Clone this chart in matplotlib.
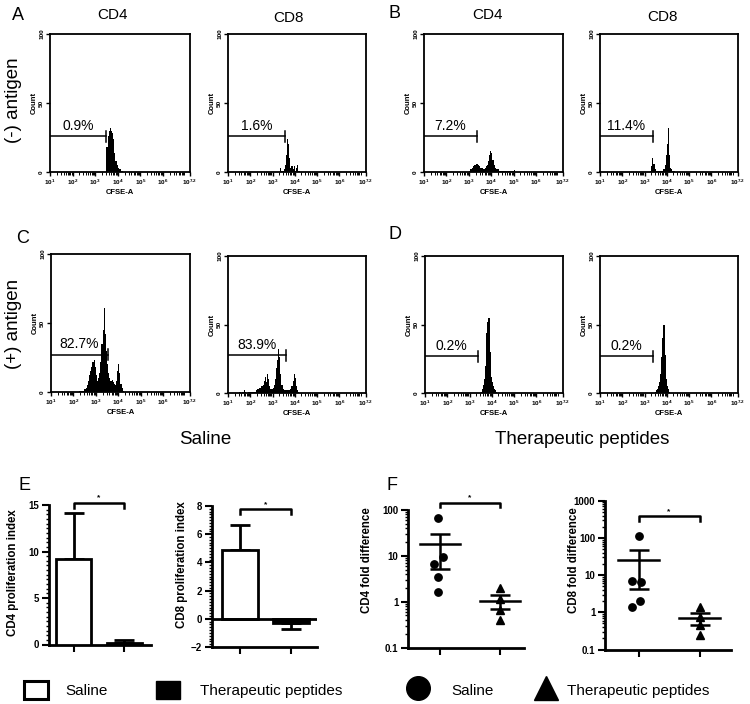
import numpy as np
import matplotlib
matplotlib.use('Agg')
import matplotlib.pyplot as plt
from matplotlib import font_manager as fm
from matplotlib.patches import Patch
from matplotlib.lines import Line2D
from matplotlib.ticker import LogLocator, NullFormatter, MultipleLocator

avail = {f.name for f in fm.fontManager.ttflist}
SANS = 'Liberation Sans' if 'Liberation Sans' in avail else 'DejaVu Sans'
HAS_NARROW = 'Liberation Sans Narrow' in avail
NARROW = 'Liberation Sans Narrow' if HAS_NARROW else SANS
plt.rcParams['font.family'] = [SANS, 'DejaVu Sans']
plt.rcParams['mathtext.fontset'] = 'custom'
plt.rcParams['mathtext.rm'] = SANS
plt.rcParams['mathtext.bf'] = SANS + ':bold'

# ---------------- data ----------------
BIN = 0.05  # log10 bin width of the CFSE histograms
# CFSE histograms: first bin (log10 CFSE) and counts per bin
sal_neg_cd4_start = 3.50
sal_neg_cd4 = [18, 26, 30, 32, 30, 28, 24, 14, 8, 5, 3, 2, 2, 1, 1]
sal_neg_cd8_start = 3.35
sal_neg_cd8 = [3, 1, 1, 2, 5, 12, 24, 20, 10, 3, 4, 2, 4, 1, 3, 5, 1, 1]
pep_neg_cd4_start = 3.00
pep_neg_cd4 = [1, 2, 2, 3, 4, 5, 6, 6, 5, 4, 3, 3, 3, 2, 3, 4, 5, 8, 12, 15, 14, 9, 5, 3,
               2, 2, 2, 1, 1, 1, 1, 1, 0.5, 0.5, 0.5, 0.5, 0.5, 0.5, 0.5, 0.5, 1.5]
pep_neg_cd8_start = 3.25
pep_neg_cd8 = [1, 4, 10, 6, 2, 1, 1, 1, 1, 1, 1, 1, 2, 5, 12, 20, 32, 12, 3, 2, 1, 1]
sal_pos_cd4_start = 2.25
sal_pos_cd4 = [1, 1, 1, 1, 2, 2, 3, 5, 8, 12, 15, 18, 22, 23, 18, 12, 8, 10, 14, 22, 35, 45,
               61, 42, 30, 20, 14, 10, 8, 9, 7, 6, 5, 8, 15, 20, 14, 6, 3, 1]
sal_pos_cd8_start = 1.50
sal_pos_cd8 = [1, 1, 0, 1, 2, 1, 0, 0, 0.5, 0.5, 1, 0.5, 1, 1, 1, 2, 3, 3, 4, 4, 5, 6, 9, 12,
               8, 14, 10, 5, 3, 3, 4, 6, 10, 18, 24, 32, 26, 14, 6, 3, 2, 2, 2, 2, 2, 2, 3,
               5, 9, 14, 11, 5, 2, 1]
pep_pos_cd4_start = 3.50
pep_pos_cd4 = [1, 3, 6, 10, 20, 44, 52, 55, 30, 12, 8, 5, 3, 2, 1]
pep_pos_cd8_start = 3.45
pep_pos_cd8 = [1, 2, 3, 5, 8, 14, 26, 40, 50, 28, 10, 5, 3, 1]

gate_labels = ['0.9%', '1.6%', '7.2%', '11.4%', '82.7%', '83.9%', '0.2%', '0.2%']
gate_ends = [3.48, 3.54, 3.35, 3.36, 3.54, 3.59, 3.36, 3.36]   # log10 CFSE
gate_levels = [26, 26, 26, 26, 27, 27.5, 26.7, 26.7]          # count

hist_xtick_exp = [1, 2, 3, 4, 5, 6, 7.2]
hist_xtick_labels = [r'$\mathbf{10^{1}}$', r'$\mathbf{10^{2}}$', r'$\mathbf{10^{3}}$',
                     r'$\mathbf{10^{4}}$', r'$\mathbf{10^{5}}$', r'$\mathbf{10^{6}}$',
                     r'$\mathbf{10^{7.2}}$']

groups = ['Saline', 'Therapeutic peptides']
cd4_index_mean = [9.15, 0.15]
cd4_index_sem = [4.95, 0.35]
cd8_index_mean = [4.87, -0.3]
cd8_index_sem = [1.8, 0.45]

cd4_fold_saline = [68, 9.6, 6.65, 3.5, 1.6]
cd4_fold_peptide = [2.0, 1.15, 0.65, 0.4]
cd8_fold_saline = [113, 7.0, 6.4, 2.0, 1.4]
cd8_fold_peptide = [1.4, 0.75, 0.45, 0.25]

# ---------------- layout helpers ----------------
W, H = 750, 704
fig = plt.figure(figsize=(W / 100, H / 100), dpi=100)


def box(l, r, t, b):
    return [l / W, 1 - b / H, (r - l) / W, (b - t) / H]


def ftext(x, y, s, **kw):
    fig.text(x / W, 1 - y / H, s, **kw)


def hist_panel(rect, start, counts, gate_end, gate_y, label):
    ax = fig.add_axes(box(*rect))
    edges = 10 ** (start + BIN * np.arange(len(counts) + 1))
    ax.stairs(counts, edges, fill=True, color='black', linewidth=0)
    ax.set_xscale('log')
    ax.set_xlim(10, 10 ** 7.2)
    ax.set_ylim(0, 100)
    for s in ax.spines.values():
        s.set_linewidth(1.3)
    ax.set_xticks([10 ** k for k in hist_xtick_exp])
    ax.set_xticklabels(hist_xtick_labels, fontsize=4.6)
    ax.xaxis.set_minor_locator(LogLocator(base=10, subs=np.arange(2, 10) * 1.0, numticks=20))
    ax.xaxis.set_minor_formatter(NullFormatter())
    ax.tick_params(axis='x', which='major', length=3, width=1.0, pad=1.2)
    ax.tick_params(axis='x', which='minor', length=2.2, width=0.7)
    ax.set_yticks([0, 50, 100])
    ax.set_yticklabels(['0', '50', '100'], rotation=90, fontsize=4.6,
                       fontweight='bold', va='center')
    ax.tick_params(axis='y', length=3, width=1.0, pad=1.2)
    ax.set_xlabel('CFSE-A', fontsize=5.5, fontweight='bold', labelpad=1)
    ax.set_ylabel('Count', fontsize=5.5, fontweight='bold', labelpad=1)
    ax.plot([10, 10 ** gate_end], [gate_y, gate_y], color='black', lw=1.1)
    ax.plot([10 ** gate_end] * 2, [gate_y - 4, gate_y + 4], color='black', lw=1.1)
    mid = 10 ** ((1 + gate_end) / 2)
    ax.text(mid, gate_y + 2.5, label, ha='center', va='bottom', fontsize=10)
    return ax


hist_rects = [(50, 190, 34, 172), (228, 366, 34, 172), (424, 563, 34, 172), (600, 738, 34, 172),
              (51, 190, 254, 392), (228, 366, 256, 393), (425, 563, 256, 393), (600, 738, 256, 393)]
hist_data = [(sal_neg_cd4_start, sal_neg_cd4), (sal_neg_cd8_start, sal_neg_cd8),
             (pep_neg_cd4_start, pep_neg_cd4), (pep_neg_cd8_start, pep_neg_cd8),
             (sal_pos_cd4_start, sal_pos_cd4), (sal_pos_cd8_start, sal_pos_cd8),
             (pep_pos_cd4_start, pep_pos_cd4), (pep_pos_cd8_start, pep_pos_cd8)]
for rect, (st, cnt), ge, gy, lab in zip(hist_rects, hist_data, gate_ends, gate_levels, gate_labels):
    hist_panel(rect, st, cnt, ge, gy, lab)

# titles / letters
for (x, y, s) in [(112, 15, 'CD4'), (289, 18, 'CD8'), (488, 15, 'CD4'), (663, 17, 'CD8')]:
    ftext(x, y, s, ha='center', va='center', fontsize=11)
for (x, y, s) in [(18, 15, 'A'), (394, 14, 'B'), (23, 238, 'C'), (395, 235, 'D'),
                  (24, 485, 'E'), (392, 486, 'F')]:
    ftext(x, y, s, ha='center', va='center', fontsize=13)
ftext(14, 100, '(-) antigen', rotation=90, ha='center', va='center', fontsize=13.5)
ftext(14, 324, '(+) antigen', rotation=90, ha='center', va='center', fontsize=13.5)
ftext(205, 440, 'Saline', ha='center', va='center', fontsize=13.5)
ftext(582, 440, 'Therapeutic peptides', ha='center', va='center', fontsize=13.5)


# ---------------- E: bar charts ----------------
def style_summary(ax):
    ax.spines['top'].set_visible(False)
    ax.spines['right'].set_visible(False)
    ax.spines['left'].set_linewidth(2)
    ax.spines['bottom'].set_linewidth(2)
    ax.set_xticks([0, 1])
    ax.set_xticklabels([])
    ax.tick_params(axis='both', which='major', length=5, width=1.5, pad=2)
    ax.tick_params(axis='y', which='minor', length=2.5, width=1.0)
    for t in ax.get_yticklabels():
        t.set_fontweight('bold')
        t.set_fontsize(7)


def bar_panel(rect, means, sems, xlim, ylim, major, minor, bracket, ylab, ylab_pos):
    ax = fig.add_axes(box(*rect))
    x = np.arange(len(means))
    means = np.asarray(means)
    sems = np.asarray(sems)
    ax.bar(x, means, width=0.7, color=['white', 'black'], edgecolor='black',
           linewidth=2, zorder=3)
    lower = np.where(means < 0, sems, 0)
    upper = np.where(means >= 0, sems, 0)
    ax.errorbar(x, means, yerr=[lower, upper], fmt='none', ecolor='black',
                elinewidth=2, capsize=7.5, capthick=2, zorder=2)
    if ylim[0] < 0:
        ax.axhline(0, color='black', lw=2, zorder=4)
    ax.set_xlim(*xlim)
    ax.set_ylim(*ylim)
    ax.yaxis.set_major_locator(MultipleLocator(major))
    ax.yaxis.set_minor_locator(MultipleLocator(minor))
    style_summary(ax)
    y0, y1, ys = bracket
    ax.plot([0, 0, 1, 1], [y1, y0, y0, y1], color='black', lw=1.8, clip_on=False)
    ax.text(0.5, ys, '*', ha='center', va='center', fontsize=6, fontweight='bold')
    ftext(ylab_pos[0], ylab_pos[1], ylab, rotation=90, ha='center', va='center',
          fontsize=8.3, fontweight='bold')
    return ax


bar_panel((49, 151, 505, 644.5), cd4_index_mean, cd4_index_sem, (-0.49, 1.53), (0, 15),
          5, 0.5, (15.18, 14.7, 15.75), 'CD4 proliferation index', (13, 573))
bar_panel((211.7, 316.5, 506, 647), cd8_index_mean, cd8_index_sem, (-0.555, 1.5), (-2, 8),
          2, 0.2, (7.81, 7.41, 8.1), 'CD8 proliferation index', (182, 565))


# ---------------- F: scatter plots ----------------
def dot_panel(rect, sal, pep, xlim, ylim, ticks, ticklabels, jitter, bracket, ylab, ylab_pos):
    ax = fig.add_axes(box(*rect))
    ax.set_yscale('log')
    for i, (vals, mk, jit) in enumerate([(sal, 'o', jitter), (pep, '^', [0] * len(pep))]):
        vals = np.asarray(vals, dtype=float)
        xs = i + np.asarray(jit)
        ax.plot(xs, vals, ls='none', marker=mk, color='black', markersize=5.3, zorder=3)
        m = vals.mean()
        se = vals.std(ddof=1) / np.sqrt(len(vals))
        ax.plot([i - 0.33, i + 0.33], [m, m], color='black', lw=1.8, zorder=4)
        ax.errorbar([i], [m], yerr=[[se], [se]], fmt='none', ecolor='black',
                    elinewidth=1.8, capsize=7.5, capthick=1.8, zorder=4)
    ax.set_xlim(*xlim)
    ax.set_ylim(*ylim)
    ax.set_yticks(ticks)
    ax.set_yticklabels(ticklabels)
    ax.yaxis.set_minor_locator(LogLocator(base=10, subs=np.arange(2, 10) * 1.0, numticks=20))
    ax.yaxis.set_minor_formatter(NullFormatter())
    style_summary(ax)
    y0, y1, ys = bracket
    ax.plot([0, 0, 1, 1], [y1, y0, y0, y1], color='black', lw=1.8, clip_on=False)
    ax.text(0.5, ys, '*', ha='center', va='center', fontsize=6, fontweight='bold')
    ftext(ylab_pos[0], ylab_pos[1], ylab, rotation=90, ha='center', va='center',
          fontsize=8.3, fontweight='bold')
    return ax


dot_panel((408, 524, 510, 647.5), cd4_fold_saline, cd4_fold_peptide, (-0.533, 1.4), (0.1, 100),
          [0.1, 1, 10, 100], ['0.1', '1', '10', '100'], [-0.03, 0.045, -0.095, -0.03, -0.03],
          (144, 114, 185), 'CD4 fold difference', (367, 560))
dot_panel((605, 731, 500.7, 649.5), cd8_fold_saline, cd8_fold_peptide, (-0.55, 1.516), (0.1, 1000),
          [0.1, 1, 10, 100, 1000], ['0.1', '1', '10', '100', '1000'], [0, -0.11, 0.04, 0.03, -0.11],
          (390, 292, 520), 'CD8 fold difference', (574, 560))

# ---------------- legend ----------------
fs_leg = 13 if HAS_NARROW else 11
leg_items = [
    (Patch(facecolor='white', edgecolor='black', linewidth=2.2), 'Saline', 24, 0.94),
    (Patch(facecolor='black', edgecolor='black'), groups[1], 156, 1.1),
    (Line2D([], [], ls='none', marker='o', color='black', markersize=17), groups[0], 406, 1.17),
    (Line2D([], [], ls='none', marker='^', color='black', markersize=17), groups[1], 534, 0.5),
]
for h, lab, xpx, pad in leg_items:
    fsp = fs_leg * 100 / 72
    fig.legend(handles=[h], labels=[lab], loc='center left',
               bbox_to_anchor=(xpx / W, 1 - 690 / H), frameon=False, borderpad=0,
               borderaxespad=0, handlelength=24 / fsp, handleheight=23 / fsp,
               handletextpad=pad * 18 / fsp, prop={'family': NARROW, 'size': fs_leg})

fig.savefig('out.png', dpi=100)
